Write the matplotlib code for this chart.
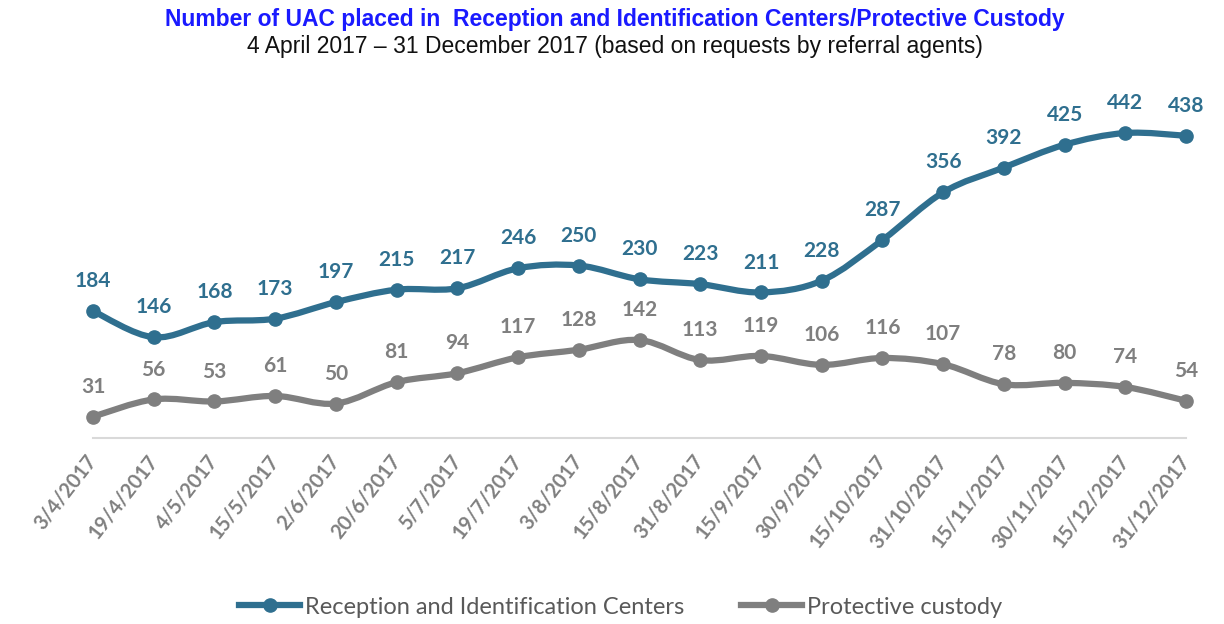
import matplotlib.pyplot as plt
from matplotlib.path import Path
from matplotlib.patches import PathPatch
from matplotlib.lines import Line2D

dates = ["3/4/2017", "19/4/2017", "4/5/2017", "15/5/2017", "2/6/2017", "20/6/2017",
         "5/7/2017", "19/7/2017", "3/8/2017", "15/8/2017", "31/8/2017", "15/9/2017",
         "30/9/2017", "15/10/2017", "31/10/2017", "15/11/2017", "30/11/2017",
         "15/12/2017", "31/12/2017"]
reception = [184, 146, 168, 173, 197, 215, 217, 246, 250, 230, 223, 211, 228,
             287, 356, 392, 425, 442, 438]
protective = [31, 56, 53, 61, 50, 81, 94, 117, 128, 142, 113, 119, 106, 116,
              107, 78, 80, 74, 54]

BLUE = "#2f6f8f"
GRAY = "#7f7f7f"


def smooth_path(xs, ys):
    # Excel-like smoothed line: Catmull-Rom segments as cubic Beziers
    pts = list(zip(xs, ys))
    verts = [pts[0]]
    codes = [Path.MOVETO]
    n = len(pts)
    for i in range(n - 1):
        p0 = pts[max(i - 1, 0)]
        p1 = pts[i]
        p2 = pts[i + 1]
        p3 = pts[min(i + 2, n - 1)]
        c1 = (p1[0] + (p2[0] - p0[0]) / 6, p1[1] + (p2[1] - p0[1]) / 6)
        c2 = (p2[0] - (p3[0] - p1[0]) / 6, p2[1] - (p3[1] - p1[1]) / 6)
        verts += [c1, c2, p2]
        codes += [Path.CURVE4] * 3
    return Path(verts, codes)


fig = plt.figure(figsize=(12.24, 6.24), dpi=100)
ax = fig.add_axes([0.076, 0.298, 0.893, 0.553])
x = list(range(len(dates)))

for vals, col in [(protective, GRAY), (reception, BLUE)]:
    ax.add_patch(PathPatch(smooth_path(x, vals), facecolor="none", edgecolor=col,
                           lw=4.5, capstyle="round", joinstyle="round", clip_on=False))
    ax.plot(x, vals, linestyle="none", marker="o", ms=9.5, color=col, clip_on=False)
    for xi, v in zip(x, vals):
        ax.annotate(str(v), (xi, v), xytext=(0, 21.5), textcoords="offset points",
                    ha="center", va="center", fontsize=15, fontweight="bold",
                    color=col, family="Lato")

ax.set_xlim(0, len(dates) - 1)
ax.set_ylim(0, 500)
ax.set_yticks([])
for s in ["top", "right", "left"]:
    ax.spines[s].set_visible(False)
ax.spines["bottom"].set_color("#d9d9d9")
ax.spines["bottom"].set_linewidth(1.5)
ax.set_xticks(x)
ax.set_xticklabels(dates, rotation=52, ha="right", va="center", rotation_mode="anchor",
                   fontsize=14.5, fontweight="bold", color="#808080", family="Lato")
ax.tick_params(axis="x", length=0, pad=14)

fig.text(0.502, 0.968, "Number of UAC placed in  Reception and Identification Centers/Protective Custody",
         ha="center", va="center", fontsize=16.5, fontweight="bold", color="#1a1aff",
         family="Liberation Sans")
fig.text(0.502, 0.925, "4 April 2017 \u2013 31 December 2017 (based on requests by referral agents)",
         ha="center", va="center", fontsize=16.5, color="#111111", family="Liberation Sans")

handles = [Line2D([], [], color=BLUE, lw=4.5, marker="o", ms=9.5),
           Line2D([], [], color=GRAY, lw=4.5, marker="o", ms=9.5)]
fig.legend(handles, ["Reception and Identification Centers", "Protective custody"],
           loc="center", bbox_to_anchor=(0.507, 0.027), ncol=2, frameon=False,
           handlelength=2.6, columnspacing=2.4, handletextpad=0.2,
           prop={"family": "Lato", "size": 17}, labelcolor="#595959")

fig.savefig("out.png", dpi=100)
